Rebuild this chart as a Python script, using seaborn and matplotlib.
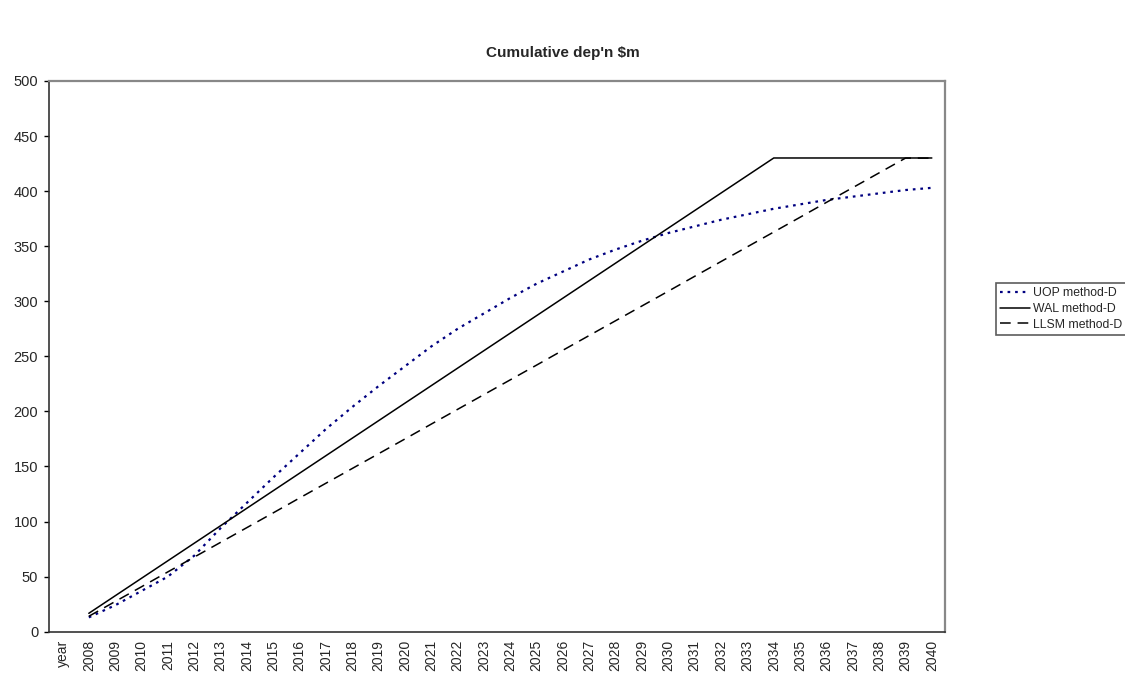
import numpy as np
import pandas as pd
import matplotlib
matplotlib.use("Agg")
import matplotlib.pyplot as plt
from matplotlib.ticker import FixedLocator, NullFormatter
import seaborn as sns

# Category axis: a leading "year" header slot, then one slot per year
categories = ["year"] + [str(y) for y in range(2008, 2041)]
years = [str(y) for y in range(2008, 2041)]

uop = [13, 24, 37, 50, 69, 94, 117, 140, 162, 184, 204, 223, 241, 259, 275,
       289, 303, 316, 327, 338, 347, 355, 362, 368, 374, 379, 384, 388, 392,
       395, 398, 401, 403]
wal = [16.7, 32.6, 48.5, 64.4, 80.3, 96.2, 112.1, 128.0, 143.9, 159.8, 175.7,
       191.6, 207.5, 223.4, 239.3, 255.2, 271.1, 287.0, 302.9, 318.8, 334.7,
       350.6, 366.5, 382.4, 398.3, 414.2, 430.1, 430.1, 430.1, 430.1, 430.1,
       430.1, 430.1]
llsm = [14.0, 27.4, 40.8, 54.3, 67.7, 81.1, 94.5, 107.9, 121.4, 134.8, 148.2,
        161.6, 175.0, 188.5, 201.9, 215.3, 228.7, 242.1, 255.6, 269.0, 282.4,
        295.8, 309.2, 322.7, 336.1, 349.5, 362.9, 376.3, 389.8, 403.2, 416.6,
        430.0, 430.0]

series_names = ["UOP method-D", "WAL method-D", "LLSM method-D"]
y_ticks = list(range(0, 501, 50))

sns.set_style("white")
plt.rcParams["font.family"] = ["Liberation Sans", "DejaVu Sans"]

pos = {c: i for i, c in enumerate(categories)}
df = pd.DataFrame({
    "pos": [pos[y] for y in years] * 3,
    "value": uop + wal + llsm,
    "series": sum([[n] * len(years) for n in series_names], []),
})

fig = plt.figure(figsize=(11.25, 6.75), dpi=100)
ax = fig.add_axes([49.3 / 1125, 1 - 631.7 / 675, (945 - 49.3) / 1125,
                   (631.7 - 81) / 675])

styles = {
    "UOP method-D": dict(color="#000080", linestyle=(0, (1.2, 2.2)), linewidth=1.6),
    "WAL method-D": dict(color="black", linestyle="-", linewidth=1.1),
    "LLSM method-D": dict(color="black", linestyle=(0, (7, 4.5)), linewidth=1.1),
}
for name in series_names:
    sub = df[df["series"] == name]
    sns.lineplot(data=sub, x="pos", y="value", ax=ax, label=name,
                 **styles[name])

ax.set_xlim(-0.5, len(categories) - 0.5)
ax.set_ylim(0, 500)
ax.set_xlabel("")
ax.set_ylabel("")

# labels centred in each slot, tick marks on slot boundaries
ax.set_xticks(range(len(categories)))
ax.set_xticklabels(categories, rotation=90, fontsize=10, va="top", ha="center")
ax.xaxis.set_minor_locator(FixedLocator(np.arange(-0.5, len(categories), 1.0)))
ax.xaxis.set_minor_formatter(NullFormatter())
ax.tick_params(axis="x", which="major", length=0, pad=6)
ax.tick_params(axis="x", which="minor", length=3.5, width=1, color="black",
               direction="out")
ax.set_yticks(y_ticks)
ax.set_yticklabels([str(v) for v in y_ticks], fontsize=10.5)
ax.tick_params(axis="y", length=3.5, width=1, color="black", direction="out",
               pad=4.5, left=True)

for side in ["left", "bottom"]:
    ax.spines[side].set_color("#333333")
    ax.spines[side].set_linewidth(1.2)
for side in ["top", "right"]:
    ax.spines[side].set_color("#888888")
    ax.spines[side].set_linewidth(1.6)

ax.get_legend().remove()
handles, labels = ax.get_legend_handles_labels()
leg = fig.legend(handles, labels, loc="upper left",
                 bbox_to_anchor=(996 / 1125, 1 - 283 / 675),
                 fontsize=8.8, frameon=True, fancybox=False,
                 handlelength=2.4, handletextpad=0.25, borderpad=0.35,
                 labelspacing=0.3, borderaxespad=0)
leg.get_frame().set_edgecolor("#333333")
leg.get_frame().set_linewidth(1.2)

fig.text(0.5, 1 - 53 / 675, "Cumulative dep'n \\$m", ha="center",
         va="center", fontsize=11, fontweight="bold")

fig.savefig("out.png", dpi=100)
